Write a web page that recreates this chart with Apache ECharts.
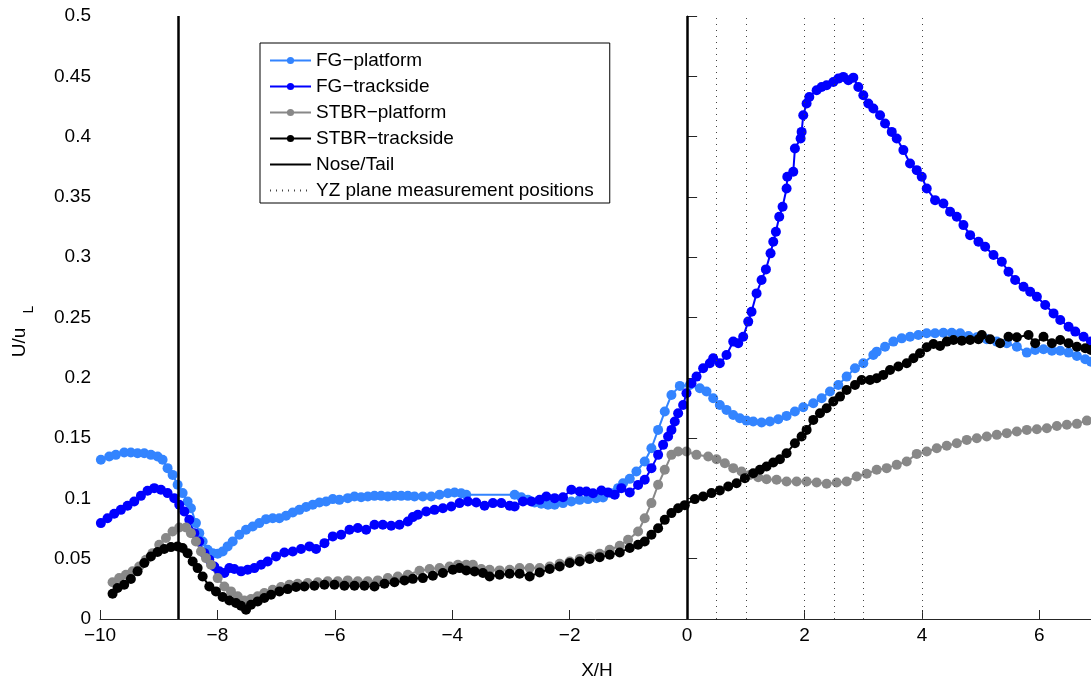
<!DOCTYPE html>
<html>
<head>
<meta charset="utf-8">
<script src="https://cdn.jsdelivr.net/npm/echarts@6/dist/echarts.min.js"></script>
<style>
  html, body { margin: 0; padding: 0; background: #fff; }
  #chart { width: 1091px; height: 682px; }
</style>
</head>
<body>
<div id="chart"></div>
<script>
var font = '"Liberation Sans", Arial, Helvetica, sans-serif';

// FG platform (light blue)
var fgPlatformX = [-9.985, -9.843, -9.73, -9.588, -9.474, -9.36, -9.246, -9.133, -9.019, -8.934, -8.849, -8.763, -8.678, -8.593, -8.508, -8.451, -8.366, -8.309, -8.252, -8.167, -8.081, -7.996, -7.911, -7.826, -7.74, -7.627, -7.513, -7.399, -7.286, -7.172, -7.058, -6.945, -6.831, -6.717, -6.604, -6.49, -6.376, -6.263, -6.149, -6.035, -5.922, -5.78, -5.666, -5.552, -5.439, -5.325, -5.211, -5.098, -4.984, -4.87, -4.757, -4.643, -4.501, -4.359, -4.217, -4.075, -3.961, -3.848, -3.762, -2.938, -2.825, -2.711, -2.597, -2.484, -2.37, -2.256, -2.114, -1.972, -1.83, -1.688, -1.546, -1.432, -1.29, -1.176, -1.091, -0.977, -0.864, -0.722, -0.608, -0.494, -0.381, -0.267, -0.124, 0.046, 0.216, 0.33, 0.444, 0.557, 0.671, 0.785, 0.898, 1.012, 1.126, 1.268, 1.41, 1.552, 1.694, 1.836, 1.978, 2.149, 2.291, 2.433, 2.575, 2.717, 2.859, 3.001, 3.171, 3.229, 3.371, 3.513, 3.655, 3.797, 3.939, 4.081, 4.223, 4.365, 4.507, 4.65, 4.792, 4.934, 5.104, 5.275, 5.445, 5.616, 5.786, 5.928, 6.07, 6.213, 6.355, 6.497, 6.639, 6.781, 6.878];
var fgPlatformY = [0.132, 0.1347, 0.1361, 0.138, 0.138, 0.1375, 0.1375, 0.1361, 0.1347, 0.132, 0.1251, 0.1195, 0.1113, 0.1044, 0.0975, 0.0919, 0.0795, 0.0712, 0.0643, 0.0574, 0.0546, 0.0541, 0.056, 0.0602, 0.0643, 0.0698, 0.074, 0.0767, 0.0795, 0.0828, 0.0836, 0.0836, 0.0856, 0.0883, 0.0905, 0.0928, 0.0947, 0.0966, 0.0975, 0.0994, 0.0988, 0.1002, 0.1016, 0.101, 0.1016, 0.1021, 0.1021, 0.1016, 0.1021, 0.1021, 0.1021, 0.1016, 0.1016, 0.1016, 0.103, 0.1043, 0.1049, 0.1043, 0.103, 0.103, 0.101, 0.0988, 0.0966, 0.0955, 0.0947, 0.0947, 0.0961, 0.0974, 0.0988, 0.0994, 0.1002, 0.1008, 0.1043, 0.1085, 0.1126, 0.1162, 0.1223, 0.1306, 0.1416, 0.1568, 0.172, 0.1858, 0.1933, 0.1941, 0.1913, 0.1886, 0.1831, 0.1775, 0.1734, 0.1692, 0.1665, 0.1645, 0.1637, 0.1629, 0.1637, 0.1656, 0.1684, 0.172, 0.1756, 0.1789, 0.183, 0.1886, 0.1941, 0.201, 0.2079, 0.212, 0.2189, 0.2217, 0.2258, 0.23, 0.2327, 0.2341, 0.2355, 0.2369, 0.2369, 0.2374, 0.2374, 0.2369, 0.2347, 0.2336, 0.2319, 0.23, 0.2286, 0.2258, 0.2209, 0.2231, 0.2236, 0.2225, 0.2225, 0.2209, 0.2181, 0.2154, 0.2134];

// FG trackside (blue)
var fgTracksideX = [-9.985, -9.872, -9.758, -9.644, -9.531, -9.417, -9.303, -9.19, -9.076, -8.962, -8.849, -8.735, -8.65, -8.564, -8.479, -8.394, -8.309, -8.223, -8.138, -8.053, -7.968, -7.882, -7.797, -7.712, -7.598, -7.485, -7.371, -7.257, -7.144, -7.002, -6.86, -6.717, -6.576, -6.433, -6.32, -6.177, -6.035, -5.893, -5.751, -5.609, -5.467, -5.325, -5.183, -5.041, -4.899, -4.757, -4.672, -4.586, -4.444, -4.302, -4.16, -4.018, -3.876, -3.734, -3.592, -3.45, -3.308, -3.165, -3.023, -2.938, -2.796, -2.654, -2.512, -2.398, -2.256, -2.114, -1.972, -1.83, -1.716, -1.603, -1.46, -1.347, -1.233, -1.12, -0.977, -0.835, -0.722, -0.608, -0.494, -0.409, -0.324, -0.267, -0.21, -0.153, -0.068, -0.011, 0.074, 0.16, 0.273, 0.387, 0.444, 0.557, 0.671, 0.785, 0.87, 0.955, 1.041, 1.097, 1.183, 1.268, 1.342, 1.421, 1.467, 1.512, 1.569, 1.626, 1.694, 1.706, 1.808, 1.836, 1.933, 1.95, 1.978, 2.035, 2.081, 2.206, 2.291, 2.376, 2.49, 2.575, 2.66, 2.746, 2.831, 2.916, 3.001, 3.087, 3.172, 3.286, 3.371, 3.485, 3.57, 3.683, 3.797, 3.911, 3.996, 4.081, 4.223, 4.365, 4.479, 4.593, 4.706, 4.82, 4.962, 5.076, 5.218, 5.36, 5.474, 5.587, 5.73, 5.843, 5.957, 6.099, 6.241, 6.355, 6.497, 6.611, 6.753, 6.878];
var fgTracksideY = [0.0795, 0.0836, 0.0872, 0.0905, 0.0939, 0.0975, 0.1021, 0.1063, 0.1085, 0.1071, 0.1044, 0.1002, 0.0947, 0.0892, 0.0823, 0.0712, 0.0643, 0.0546, 0.0491, 0.0436, 0.0395, 0.0381, 0.0422, 0.0414, 0.0395, 0.0409, 0.0422, 0.045, 0.0477, 0.0519, 0.0552, 0.056, 0.058, 0.0602, 0.058, 0.0629, 0.0685, 0.0698, 0.074, 0.0754, 0.074, 0.0781, 0.0781, 0.0773, 0.0781, 0.0809, 0.0845, 0.0864, 0.0892, 0.0905, 0.0919, 0.0933, 0.0961, 0.0974, 0.0966, 0.0939, 0.0961, 0.0961, 0.0939, 0.0933, 0.0974, 0.0974, 0.0988, 0.1016, 0.1002, 0.101, 0.1071, 0.1057, 0.1057, 0.1043, 0.1066, 0.1049, 0.103, 0.1085, 0.1049, 0.1112, 0.1154, 0.1251, 0.1361, 0.1444, 0.1513, 0.1568, 0.1637, 0.1706, 0.1775, 0.1872, 0.1955, 0.201, 0.2079, 0.212, 0.2162, 0.212, 0.2189, 0.23, 0.2286, 0.2341, 0.2466, 0.2548, 0.27, 0.2811, 0.2899, 0.3032, 0.3128, 0.3211, 0.3335, 0.3418, 0.357, 0.3667, 0.3708, 0.3901, 0.3984, 0.4039, 0.4177, 0.4274, 0.4329, 0.4384, 0.4412, 0.4426, 0.4453, 0.4481, 0.4495, 0.4467, 0.4489, 0.4412, 0.4343, 0.4274, 0.4233, 0.4177, 0.4108, 0.4039, 0.3984, 0.3888, 0.3777, 0.3722, 0.3667, 0.357, 0.3473, 0.3446, 0.3377, 0.3335, 0.3266, 0.3183, 0.3128, 0.3087, 0.3018, 0.2962, 0.288, 0.2811, 0.2755, 0.2714, 0.2672, 0.2603, 0.2534, 0.2479, 0.2424, 0.2383, 0.2341, 0.23];

// STBR platform (grey)
var stbrPlatformX = [-9.786, -9.673, -9.559, -9.445, -9.332, -9.218, -9.105, -8.991, -8.877, -8.764, -8.65, -8.536, -8.451, -8.366, -8.28, -8.195, -8.11, -7.996, -7.882, -7.769, -7.655, -7.542, -7.428, -7.314, -7.201, -7.058, -6.917, -6.774, -6.632, -6.462, -6.291, -6.121, -5.95, -5.78, -5.609, -5.439, -5.268, -5.098, -4.927, -4.757, -4.558, -4.387, -4.217, -4.046, -3.904, -3.762, -3.649, -3.507, -3.364, -3.194, -3.023, -2.853, -2.682, -2.512, -2.341, -2.171, -2.0, -1.83, -1.66, -1.489, -1.319, -1.148, -1.006, -0.835, -0.722, -0.608, -0.494, -0.381, -0.267, -0.153, -0.011, 0.159, 0.359, 0.501, 0.643, 0.785, 0.927, 1.069, 1.211, 1.353, 1.524, 1.694, 1.865, 2.035, 2.206, 2.376, 2.547, 2.717, 2.888, 3.058, 3.229, 3.399, 3.57, 3.74, 3.911, 4.081, 4.252, 4.422, 4.593, 4.763, 4.934, 5.104, 5.275, 5.445, 5.616, 5.786, 5.957, 6.127, 6.298, 6.468, 6.639, 6.809];
var stbrPlatformY = [0.0304, 0.0339, 0.0367, 0.0395, 0.0436, 0.0491, 0.0546, 0.0615, 0.0671, 0.0726, 0.0759, 0.0759, 0.0712, 0.0643, 0.056, 0.0505, 0.045, 0.0339, 0.027, 0.0229, 0.0188, 0.0154, 0.0166, 0.0188, 0.0215, 0.0243, 0.0265, 0.0284, 0.0292, 0.0298, 0.0304, 0.0312, 0.0312, 0.032, 0.0312, 0.0312, 0.032, 0.0339, 0.0353, 0.0367, 0.04, 0.0414, 0.0422, 0.0436, 0.045, 0.045, 0.045, 0.0414, 0.0408, 0.0403, 0.0408, 0.0422, 0.0422, 0.0422, 0.0436, 0.0458, 0.0477, 0.0497, 0.0519, 0.0541, 0.0574, 0.0607, 0.0657, 0.0726, 0.0836, 0.0961, 0.1113, 0.1237, 0.1361, 0.1389, 0.1389, 0.1361, 0.1347, 0.1325, 0.1292, 0.1251, 0.1223, 0.1195, 0.1176, 0.1159, 0.1154, 0.114, 0.114, 0.114, 0.1132, 0.1121, 0.1132, 0.114, 0.1182, 0.1204, 0.1237, 0.1251, 0.1278, 0.1306, 0.1369, 0.1389, 0.1416, 0.1436, 0.1458, 0.1485, 0.1499, 0.1513, 0.1527, 0.1541, 0.1554, 0.1568, 0.1574, 0.1582, 0.1601, 0.161, 0.1618, 0.1645];

// STBR trackside (black)
var stbrTracksideX = [-9.786, -9.701, -9.588, -9.474, -9.36, -9.246, -9.133, -9.019, -8.906, -8.792, -8.678, -8.593, -8.508, -8.422, -8.337, -8.252, -8.138, -8.025, -7.911, -7.797, -7.684, -7.599, -7.513, -7.428, -7.314, -7.201, -7.087, -6.945, -6.803, -6.661, -6.519, -6.348, -6.178, -6.007, -5.837, -5.666, -5.496, -5.325, -5.155, -4.984, -4.814, -4.672, -4.501, -4.331, -4.16, -3.99, -3.876, -3.762, -3.62, -3.478, -3.364, -3.194, -3.023, -2.853, -2.682, -2.512, -2.341, -2.171, -2.0, -1.83, -1.66, -1.489, -1.319, -1.148, -0.977, -0.835, -0.722, -0.608, -0.494, -0.381, -0.267, -0.153, -0.04, 0.131, 0.273, 0.415, 0.557, 0.7, 0.842, 0.984, 1.126, 1.24, 1.353, 1.467, 1.581, 1.694, 1.836, 1.95, 2.035, 2.149, 2.263, 2.376, 2.49, 2.604, 2.717, 2.859, 2.973, 3.115, 3.229, 3.342, 3.456, 3.598, 3.74, 3.854, 3.967, 4.081, 4.195, 4.308, 4.422, 4.536, 4.678, 4.82, 4.962, 5.019, 5.161, 5.331, 5.474, 5.616, 5.815, 5.928, 6.07, 6.213, 6.355, 6.497, 6.639, 6.781, 6.878];
var stbrTracksideY = [0.021, 0.0257, 0.0284, 0.0331, 0.0395, 0.0464, 0.0519, 0.0555, 0.058, 0.0596, 0.0602, 0.0588, 0.0546, 0.0477, 0.0422, 0.0353, 0.027, 0.0229, 0.0182, 0.0154, 0.0132, 0.011, 0.0077, 0.0118, 0.0146, 0.0174, 0.0201, 0.0229, 0.0248, 0.0265, 0.027, 0.0276, 0.0284, 0.0284, 0.0276, 0.0276, 0.0276, 0.027, 0.0292, 0.0304, 0.032, 0.0333, 0.0339, 0.0359, 0.0381, 0.0408, 0.0422, 0.0403, 0.0394, 0.0381, 0.0353, 0.0367, 0.0375, 0.0375, 0.0353, 0.0386, 0.0414, 0.0436, 0.0464, 0.0477, 0.0497, 0.0513, 0.0533, 0.0552, 0.0588, 0.0615, 0.0643, 0.0698, 0.0753, 0.0822, 0.0878, 0.0919, 0.0944, 0.0994, 0.1016, 0.1044, 0.1066, 0.1099, 0.1126, 0.1168, 0.1209, 0.1237, 0.1264, 0.1298, 0.1325, 0.1375, 0.1458, 0.1513, 0.1568, 0.1651, 0.1706, 0.1748, 0.1803, 0.1844, 0.1899, 0.1941, 0.1982, 0.1982, 0.1996, 0.2024, 0.2065, 0.2093, 0.212, 0.2162, 0.2203, 0.2253, 0.228, 0.2264, 0.23, 0.2314, 0.2308, 0.2314, 0.2319, 0.2355, 0.2319, 0.2286, 0.2341, 0.2336, 0.2355, 0.2286, 0.2341, 0.2286, 0.2314, 0.2286, 0.2258, 0.2245, 0.2231];

var noseTailX = [-8.67, 0];
var yzPlaneX = [0.5, 1, 2, 2.5, 3, 4];

function pairs(xs, ys) {
  return xs.map(function (x, i) { return [x, ys[i]]; });
}

function dataSeries(name, color, xs, ys) {
  return {
    name: name,
    type: 'line',
    data: pairs(xs, ys),
    symbol: 'circle',
    symbolSize: 10,
    showSymbol: true,
    showAllSymbol: true,
    color: color,
    itemStyle: { color: color },
    lineStyle: { color: color, width: 2 },
    clip: true
  };
}

var chart = echarts.init(document.getElementById('chart'));
chart.setOption({
  animation: false,
  textStyle: { fontFamily: font },
  grid: { left: 100, width: 994, top: 16, bottom: 63, containLabel: false, outerBoundsMode: 'none' },
  legend: {
    orient: 'vertical',
    left: 260,
    top: 43,
    padding: [8, 16, 3, 9],
    itemWidth: 41,
    itemHeight: 9,
    itemGap: 7,
    backgroundColor: '#fff',
    borderColor: '#000',
    borderWidth: 1,
    textStyle: { fontFamily: font, fontSize: 19, color: '#000' },
    data: [
      'FG\u2212platform', 'FG\u2212trackside', 'STBR\u2212platform', 'STBR\u2212trackside',
      { name: 'Nose/Tail', itemStyle: { opacity: 0 } },
      { name: 'YZ plane measurement positions', itemStyle: { opacity: 0 } }
    ]
  },
  xAxis: {
    type: 'value',
    min: -10,
    max: 6.93,
    interval: 2,
    name: 'X/H',
    nameLocation: 'middle',
    nameGap: 42,
    nameTextStyle: { fontFamily: font, fontSize: 19, color: '#000' },
    axisLine: { show: true, onZero: false, lineStyle: { color: '#262626', width: 1 } },
    axisTick: { show: true, inside: true, length: 9, lineStyle: { color: '#262626' } },
    axisLabel: {
      fontFamily: font, fontSize: 19, color: '#000', margin: 7,
      formatter: function (v) {
        if (Math.abs(v % 2) > 1e-6) return '';
        return v < 0 ? '\u2212' + (-v) : String(v);
      }
    },
    splitLine: { show: false }
  },
  yAxis: {
    type: 'value',
    min: 0,
    max: 0.5,
    interval: 0.05,
    name: '{a|U/u}{b|L}',
    nameLocation: 'middle',
    nameGap: 64,
    nameTextStyle: {
      fontFamily: font, fontSize: 19, color: '#000',
      rich: {
        a: { fontFamily: font, fontSize: 19, color: '#000', padding: [0, 0, 7, 0], verticalAlign: 'bottom' },
        b: { fontFamily: font, fontSize: 14, color: '#000', padding: [0, 28, 0, 14], verticalAlign: 'bottom' }
      }
    },
    axisLine: { show: true, lineStyle: { color: '#262626', width: 1 } },
    axisTick: { show: true, inside: true, length: 10, lineStyle: { color: '#262626' } },
    axisLabel: {
      fontFamily: font, fontSize: 19, color: '#000', margin: 9,
      formatter: function (v) { return String(Math.round(v * 100) / 100); }
    },
    splitLine: { show: false }
  },
  series: [
    dataSeries('FG\u2212platform', '#3384ff', fgPlatformX, fgPlatformY),
    dataSeries('FG\u2212trackside', '#0000ff', fgTracksideX, fgTracksideY),
    dataSeries('STBR\u2212platform', '#888888', stbrPlatformX, stbrPlatformY),
    dataSeries('STBR\u2212trackside', '#000000', stbrTracksideX, stbrTracksideY),
    {
      name: 'Nose/Tail',
      type: 'line',
      data: [],
      symbol: 'none',
      color: '#000',
      lineStyle: { color: '#000', width: 2.5 },
      markLine: {
        silent: true,
        symbol: 'none',
        label: { show: false },
        lineStyle: { color: '#000', width: 2.5, type: 'solid' },
        data: noseTailX.map(function (x) { return { xAxis: x }; })
      }
    },
    {
      name: 'YZ plane measurement positions',
      type: 'line',
      data: [],
      symbol: 'none',
      color: '#444',
      lineStyle: { color: '#444', width: 1, type: [1, 5] },
      markLine: {
        silent: true,
        symbol: 'none',
        label: { show: false },
        lineStyle: { color: '#444', width: 1, type: [1, 5] },
        data: yzPlaneX.map(function (x) { return { xAxis: x }; })
      }
    }
  ]
});
</script>
</body>
</html>
